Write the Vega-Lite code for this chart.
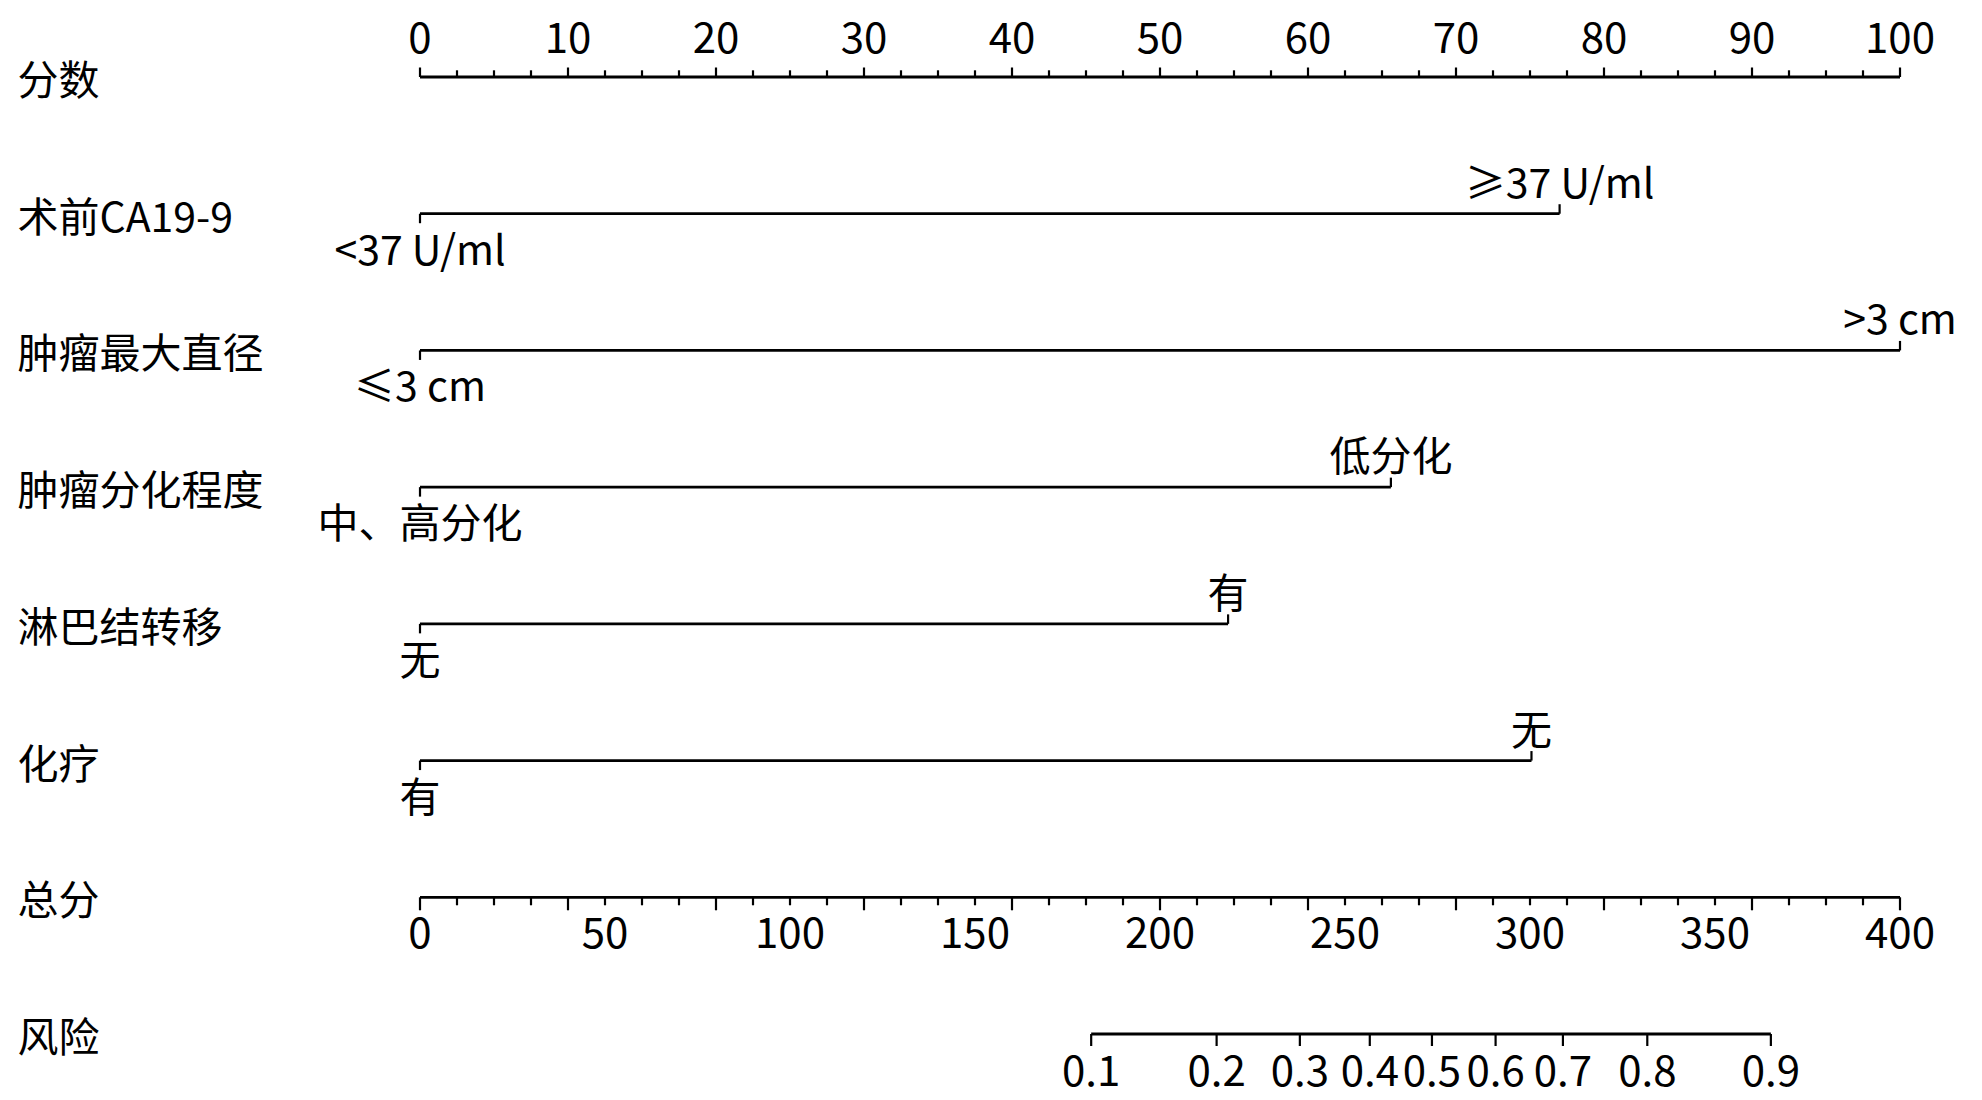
{
  "$schema": "https://vega.github.io/schema/vega-lite/v6.json",
  "width": 1480,
  "height": 957,
  "autosize": {"type": "none"},
  "padding": {"left": 420, "top": 77, "right": 82, "bottom": 66},
  "background": "white",
  "config": {"view": {"stroke": null}, "font": "Noto Sans CJK SC", "text": {"font": "Noto Sans CJK SC", "fontSize": 41, "color": "black"}},
  "datasets": {
    "pointLines": [
      {"var": "分数", "from": 0, "to": 100},
      {"var": "术前CA19-9", "from": 0, "to": 77.0},
      {"var": "肿瘤最大直径", "from": 0, "to": 100},
      {"var": "肿瘤分化程度", "from": 0, "to": 65.6},
      {"var": "淋巴结转移", "from": 0, "to": 54.6},
      {"var": "化疗", "from": 0, "to": 75.1}
    ],
    "levels": [
      {"var": "术前CA19-9", "level": "<37 U/ml", "points": 0},
      {"var": "术前CA19-9", "level": "≥37 U/ml", "points": 77.0},
      {"var": "肿瘤最大直径", "level": "≤3 cm", "points": 0},
      {"var": "肿瘤最大直径", "level": ">3 cm", "points": 100},
      {"var": "肿瘤分化程度", "level": "中、高分化", "points": 0},
      {"var": "肿瘤分化程度", "level": "低分化", "points": 65.6},
      {"var": "淋巴结转移", "level": "无", "points": 0},
      {"var": "淋巴结转移", "level": "有", "points": 54.6},
      {"var": "化疗", "level": "有", "points": 0},
      {"var": "化疗", "level": "无", "points": 75.1}
    ],
    "pointScale": [
      {"var": "分数", "v": 0}, {"var": "分数", "v": 2.5}, {"var": "分数", "v": 5}, {"var": "分数", "v": 7.5},
      {"var": "分数", "v": 10}, {"var": "分数", "v": 12.5}, {"var": "分数", "v": 15}, {"var": "分数", "v": 17.5},
      {"var": "分数", "v": 20}, {"var": "分数", "v": 22.5}, {"var": "分数", "v": 25}, {"var": "分数", "v": 27.5},
      {"var": "分数", "v": 30}, {"var": "分数", "v": 32.5}, {"var": "分数", "v": 35}, {"var": "分数", "v": 37.5},
      {"var": "分数", "v": 40}, {"var": "分数", "v": 42.5}, {"var": "分数", "v": 45}, {"var": "分数", "v": 47.5},
      {"var": "分数", "v": 50}, {"var": "分数", "v": 52.5}, {"var": "分数", "v": 55}, {"var": "分数", "v": 57.5},
      {"var": "分数", "v": 60}, {"var": "分数", "v": 62.5}, {"var": "分数", "v": 65}, {"var": "分数", "v": 67.5},
      {"var": "分数", "v": 70}, {"var": "分数", "v": 72.5}, {"var": "分数", "v": 75}, {"var": "分数", "v": 77.5},
      {"var": "分数", "v": 80}, {"var": "分数", "v": 82.5}, {"var": "分数", "v": 85}, {"var": "分数", "v": 87.5},
      {"var": "分数", "v": 90}, {"var": "分数", "v": 92.5}, {"var": "分数", "v": 95}, {"var": "分数", "v": 97.5},
      {"var": "分数", "v": 100}
    ],
    "totalLines": [
      {"var": "总分", "from": 0, "to": 400},
      {"var": "风险", "from": 181.4, "to": 365.1}
    ],
    "totalScale": [
      {"var": "总分", "v": 0}, {"var": "总分", "v": 10}, {"var": "总分", "v": 20}, {"var": "总分", "v": 30},
      {"var": "总分", "v": 40}, {"var": "总分", "v": 50}, {"var": "总分", "v": 60}, {"var": "总分", "v": 70},
      {"var": "总分", "v": 80}, {"var": "总分", "v": 90}, {"var": "总分", "v": 100}, {"var": "总分", "v": 110},
      {"var": "总分", "v": 120}, {"var": "总分", "v": 130}, {"var": "总分", "v": 140}, {"var": "总分", "v": 150},
      {"var": "总分", "v": 160}, {"var": "总分", "v": 170}, {"var": "总分", "v": 180}, {"var": "总分", "v": 190},
      {"var": "总分", "v": 200}, {"var": "总分", "v": 210}, {"var": "总分", "v": 220}, {"var": "总分", "v": 230},
      {"var": "总分", "v": 240}, {"var": "总分", "v": 250}, {"var": "总分", "v": 260}, {"var": "总分", "v": 270},
      {"var": "总分", "v": 280}, {"var": "总分", "v": 290}, {"var": "总分", "v": 300}, {"var": "总分", "v": 310},
      {"var": "总分", "v": 320}, {"var": "总分", "v": 330}, {"var": "总分", "v": 340}, {"var": "总分", "v": 350},
      {"var": "总分", "v": 360}, {"var": "总分", "v": 370}, {"var": "总分", "v": 380}, {"var": "总分", "v": 390},
      {"var": "总分", "v": 400}
    ],
    "risk": [
      {"var": "风险", "prob": "0.1", "total": 181.4},
      {"var": "风险", "prob": "0.2", "total": 215.3},
      {"var": "风险", "prob": "0.3", "total": 237.8},
      {"var": "风险", "prob": "0.4", "total": 256.7},
      {"var": "风险", "prob": "0.5", "total": 273.5},
      {"var": "风险", "prob": "0.6", "total": 290.7},
      {"var": "风险", "prob": "0.7", "total": 308.9},
      {"var": "风险", "prob": "0.8", "total": 331.7},
      {"var": "风险", "prob": "0.9", "total": 365.1}
    ]
  },
  "encoding": {
    "y": {
      "field": "var", "type": "nominal",
      "scale": {"type": "point", "padding": 0, "domain": ["分数", "术前CA19-9", "肿瘤最大直径", "肿瘤分化程度", "淋巴结转移", "化疗", "总分", "风险"]},
      "axis": {"title": null, "ticks": false, "domain": false, "grid": false, "labelAlign": "left", "labelBaseline": "middle", "labelPadding": 403, "labelFontSize": 41, "labelFont": "Noto Sans CJK SC", "labelColor": "black", "labelLimit": 500, "labelOffset": 5.5}
    }
  },
  "layer": [
    {
      "layer": [
        {
          "data": {"name": "pointLines"},
          "mark": {"type": "rule", "color": "black", "strokeWidth": 2.8},
          "encoding": {
            "x": {"field": "from", "type": "quantitative", "scale": {"domain": [0, 100], "nice": false, "zero": false}, "axis": null},
            "x2": {"field": "to"}
          }
        },
        {
          "data": {"name": "pointScale"},
          "transform": [{"filter": "datum.v % 10 == 0"}],
          "mark": {"type": "rule", "color": "black", "strokeWidth": 2.2, "y2Offset": -9.5},
          "encoding": {
            "x": {"field": "v", "type": "quantitative", "scale": {"domain": [0, 100], "nice": false, "zero": false}, "axis": null},
            "y2": {"field": "var"}
          }
        },
        {
          "data": {"name": "pointScale"},
          "transform": [{"filter": "datum.v % 10 != 0"}],
          "mark": {"type": "rule", "color": "black", "strokeWidth": 2.2, "y2Offset": -6.7},
          "encoding": {
            "x": {"field": "v", "type": "quantitative", "scale": {"domain": [0, 100], "nice": false, "zero": false}, "axis": null},
            "y2": {"field": "var"}
          }
        },
        {
          "data": {"name": "pointScale"},
          "transform": [{"filter": "datum.v % 10 == 0"}],
          "mark": {"type": "text", "baseline": "middle", "align": "center", "yOffset": -37, "fontSize": 42},
          "encoding": {
            "x": {"field": "v", "type": "quantitative", "scale": {"domain": [0, 100], "nice": false, "zero": false}, "axis": null},
            "text": {"field": "v", "type": "nominal"}
          }
        },
        {
          "data": {"name": "levels"},
          "transform": [{"filter": "datum.points == 0"}],
          "mark": {"type": "rule", "color": "black", "strokeWidth": 2.2, "y2Offset": 9.5},
          "encoding": {
            "x": {"field": "points", "type": "quantitative", "scale": {"domain": [0, 100], "nice": false, "zero": false}, "axis": null},
            "y2": {"field": "var"}
          }
        },
        {
          "data": {"name": "levels"},
          "transform": [{"filter": "datum.points > 0"}],
          "mark": {"type": "rule", "color": "black", "strokeWidth": 2.2, "y2Offset": -9.5},
          "encoding": {
            "x": {"field": "points", "type": "quantitative", "scale": {"domain": [0, 100], "nice": false, "zero": false}, "axis": null},
            "y2": {"field": "var"}
          }
        },
        {
          "data": {"name": "levels"},
          "transform": [{"filter": "datum.points == 0"}],
          "mark": {"type": "text", "baseline": "middle", "align": "center", "yOffset": 39, "fontSize": 41},
          "encoding": {
            "x": {"field": "points", "type": "quantitative", "scale": {"domain": [0, 100], "nice": false, "zero": false}, "axis": null},
            "text": {"field": "level", "type": "nominal"}
          }
        },
        {
          "data": {"name": "levels"},
          "transform": [{"filter": "datum.points > 0"}],
          "mark": {"type": "text", "baseline": "middle", "align": "center", "yOffset": -28, "fontSize": 41},
          "encoding": {
            "x": {"field": "points", "type": "quantitative", "scale": {"domain": [0, 100], "nice": false, "zero": false}, "axis": null},
            "text": {"field": "level", "type": "nominal"}
          }
        }
      ]
    },
    {
      "layer": [
        {
          "data": {"name": "totalLines"},
          "mark": {"type": "rule", "color": "black", "strokeWidth": 2.8},
          "encoding": {
            "x": {"field": "from", "type": "quantitative", "scale": {"domain": [0, 400], "nice": false, "zero": false}, "axis": null},
            "x2": {"field": "to"}
          }
        },
        {
          "data": {"name": "totalScale"},
          "transform": [{"filter": "datum.v % 40 == 0"}],
          "mark": {"type": "rule", "color": "black", "strokeWidth": 2.2, "y2Offset": 13},
          "encoding": {
            "x": {"field": "v", "type": "quantitative", "scale": {"domain": [0, 400], "nice": false, "zero": false}, "axis": null},
            "y2": {"field": "var"}
          }
        },
        {
          "data": {"name": "totalScale"},
          "transform": [{"filter": "datum.v % 40 != 0"}],
          "mark": {"type": "rule", "color": "black", "strokeWidth": 2.2, "y2Offset": 8},
          "encoding": {
            "x": {"field": "v", "type": "quantitative", "scale": {"domain": [0, 400], "nice": false, "zero": false}, "axis": null},
            "y2": {"field": "var"}
          }
        },
        {
          "data": {"name": "totalScale"},
          "transform": [{"filter": "datum.v % 50 == 0"}],
          "mark": {"type": "text", "baseline": "middle", "align": "center", "yOffset": 38, "fontSize": 42},
          "encoding": {
            "x": {"field": "v", "type": "quantitative", "scale": {"domain": [0, 400], "nice": false, "zero": false}, "axis": null},
            "text": {"field": "v", "type": "nominal"}
          }
        },
        {
          "data": {"name": "risk"},
          "mark": {"type": "rule", "color": "black", "strokeWidth": 2.2, "y2Offset": 12},
          "encoding": {
            "x": {"field": "total", "type": "quantitative", "scale": {"domain": [0, 400], "nice": false, "zero": false}, "axis": null},
            "y2": {"field": "var"}
          }
        },
        {
          "data": {"name": "risk"},
          "mark": {"type": "text", "baseline": "middle", "align": "center", "yOffset": 39, "fontSize": 42},
          "encoding": {
            "x": {"field": "total", "type": "quantitative", "scale": {"domain": [0, 400], "nice": false, "zero": false}, "axis": null},
            "text": {"field": "prob", "type": "nominal"}
          }
        }
      ]
    }
  ],
  "resolve": {"scale": {"x": "independent"}}
}
